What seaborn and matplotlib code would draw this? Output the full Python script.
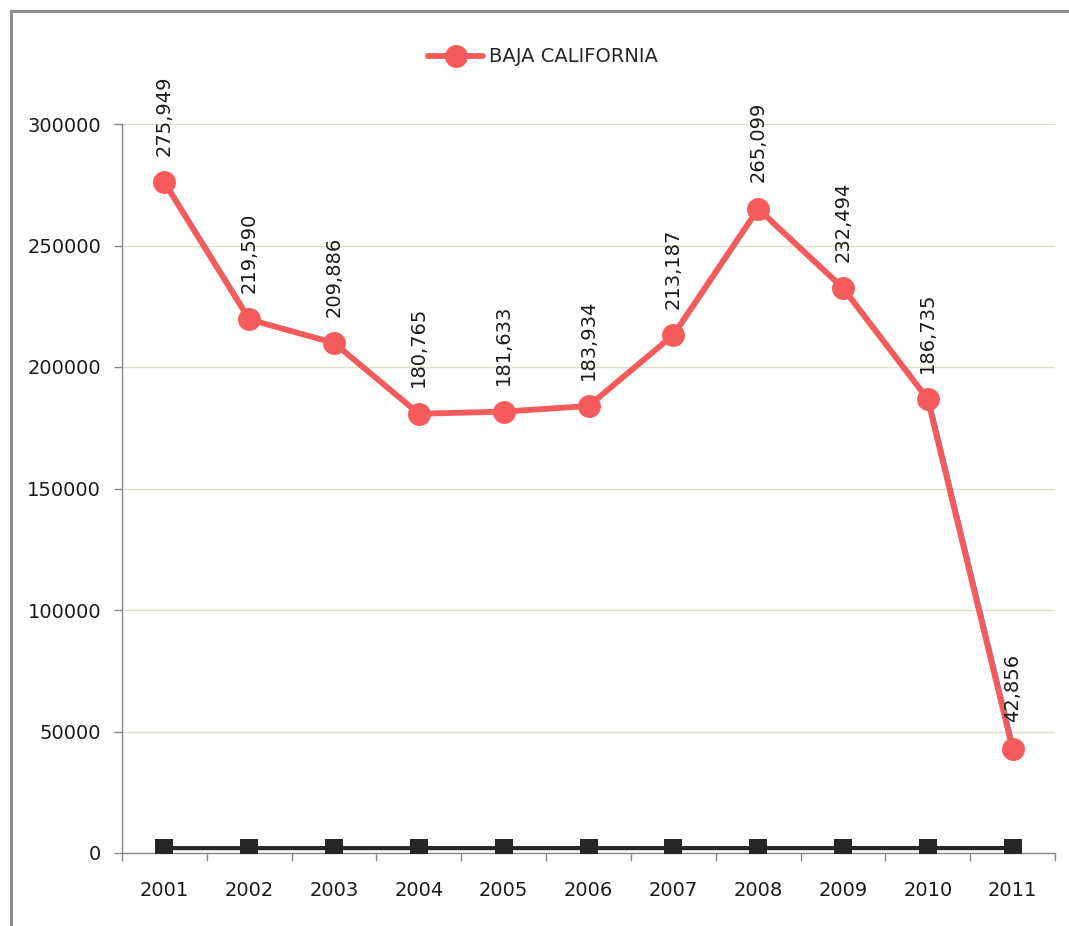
import matplotlib
matplotlib.use("Agg")
import matplotlib.pyplot as plt
import matplotlib.transforms as mtransforms
from matplotlib.patches import Rectangle
import seaborn as sns
import pandas as pd

# data
years = ["2001", "2002", "2003", "2004", "2005", "2006",
         "2007", "2008", "2009", "2010", "2011"]
baja = [275949, 219590, 209886, 180765, 181633, 183934,
        213187, 265099, 232494, 186735, 42856]
# second series sits just above zero: the year numbers themselves
year_series = [2001, 2002, 2003, 2004, 2005, 2006,
               2007, 2008, 2009, 2010, 2011]
y_ticks = [0, 50000, 100000, 150000, 200000, 250000, 300000]

df = pd.DataFrame({"year": years, "baja": baja, "yr": year_series})

sns.set_style("white")
plt.rcParams["font.family"] = ["DejaVu Sans"]

W, H = 1069, 926
fig = plt.figure(figsize=(W / 100, H / 100), dpi=100)
ax = fig.add_axes([122 / W, 1 - 853 / H, (1055 - 122) / W, (853 - 124) / H])

# chart frame (cut off at right and bottom like the screenshot)
fig.patches.append(Rectangle((11 / W, -0.1), 1.2, 1 - 11 / H + 0.1,
                             transform=fig.transFigure, fill=False,
                             edgecolor="#8c8c8c", lw=2.2, zorder=0))

red = "#f65b5b"
shadow = mtransforms.offset_copy(ax.transData, fig=fig, x=2.5, y=0, units="dots")

# thin blue line peeking out beside the red one
sns.lineplot(data=df, x="year", y="baja", ax=ax, color="#4f9ad8", lw=1.3,
             transform=shadow, sort=False, zorder=2)
sns.lineplot(data=df, x="year", y="baja", ax=ax, color=red, lw=4.2,
             marker="o", markersize=16.5, markeredgewidth=0,
             sort=False, zorder=3, label="BAJA CALIFORNIA")
sns.lineplot(data=df, x="year", y="yr", ax=ax, color="#262626", lw=3,
             marker="s", markersize=12.5, markeredgewidth=0,
             sort=False, zorder=3)

for i, v in enumerate(baja):
    ax.annotate(f"{v:,}", (i, v), xytext=(0, 19), textcoords="offset points",
                rotation=90, ha="center", va="bottom", fontsize=14,
                color="#1a1a1a", zorder=5)

ax.set_xlim(-0.5, len(years) - 0.5)
ax.set_ylim(0, 300000)
ax.set_yticks(y_ticks)
ax.set_yticklabels([str(t) for t in y_ticks])
ax.set_xticks(range(len(years)))
ax.set_xticklabels(years)
ax.set_xticks([i - 0.5 for i in range(len(years) + 1)], minor=True)
ax.set_xlabel("")
ax.set_ylabel("")

ax.grid(axis="y", color="#dedec8", lw=1)
ax.set_axisbelow(True)
for s in ["top", "right"]:
    ax.spines[s].set_visible(False)
for s in ["left", "bottom"]:
    ax.spines[s].set_color("#868686")
    ax.spines[s].set_linewidth(1)

ax.tick_params(axis="y", which="major", length=6, width=1, color="#868686",
               pad=9, labelsize=14, labelcolor="#1a1a1a", left=True)
ax.tick_params(axis="x", which="major", length=0, pad=20, labelsize=14,
               labelcolor="#1a1a1a")
ax.tick_params(axis="x", which="minor", length=6, width=1, color="#868686",
               bottom=True, direction="out")

leg = ax.legend(loc="center", bbox_to_anchor=(543 / W, 1 - 57 / H),
                bbox_transform=fig.transFigure, frameon=False, fontsize=14,
                handlelength=2.8, handletextpad=0.3)

fig.savefig("out.png", dpi=100)
